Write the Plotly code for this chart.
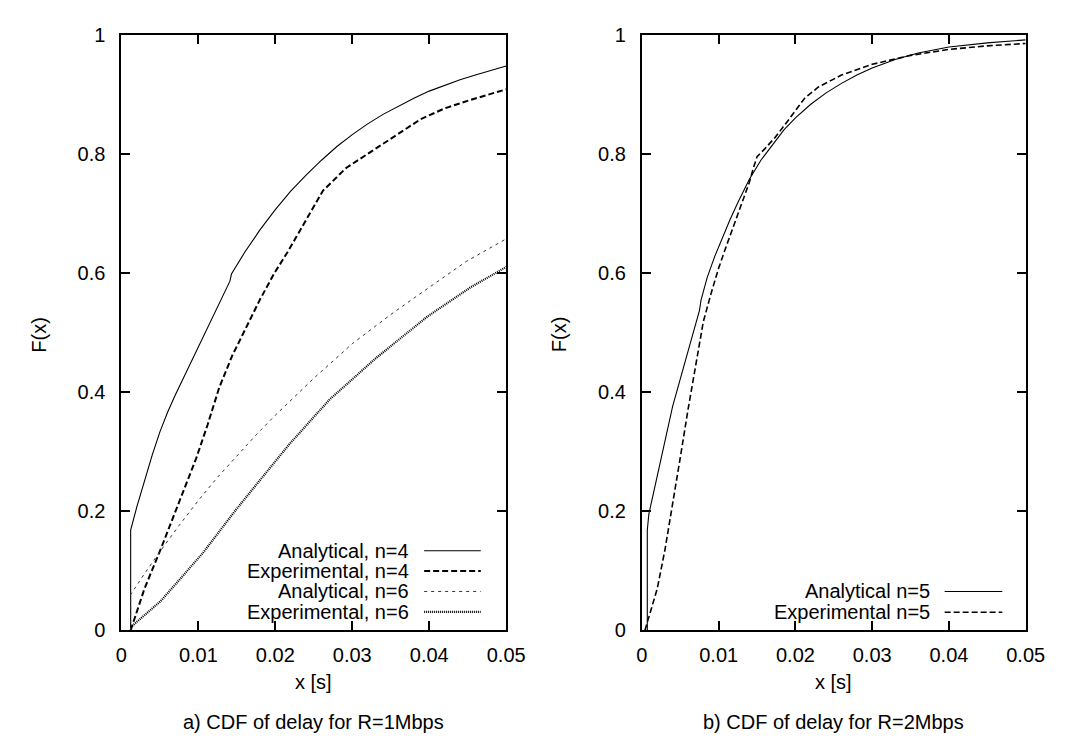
import plotly.graph_objects as go

# ---------------- data ----------------
# Panel a) R=1Mbps
a4_x = [0.0012, 0.0012, 0.002, 0.003, 0.004, 0.005, 0.006, 0.007, 0.008, 0.009, 0.010, 0.011,
        0.012, 0.013, 0.0141, 0.0143, 0.016, 0.018, 0.020, 0.022, 0.024, 0.026, 0.028, 0.030,
        0.032, 0.034, 0.036, 0.038, 0.040, 0.042, 0.044, 0.046, 0.048, 0.050]
a4_y = [0.0, 0.168, 0.207, 0.252, 0.294, 0.333, 0.366, 0.395, 0.422, 0.448, 0.475, 0.503,
        0.530, 0.557, 0.586, 0.598, 0.634, 0.672, 0.706, 0.737, 0.764, 0.789, 0.812, 0.832,
        0.850, 0.866, 0.880, 0.893, 0.905, 0.915, 0.924, 0.932, 0.940, 0.947]

e4_x = [0.0012, 0.003, 0.0051, 0.0075, 0.0097, 0.0112, 0.0127, 0.0144, 0.0161, 0.018, 0.0199, 0.0216,
        0.0245, 0.0262, 0.0292, 0.0334, 0.0389, 0.042, 0.0453, 0.05]
e4_y = [0.0, 0.070, 0.136, 0.215, 0.288, 0.345, 0.407, 0.461, 0.505, 0.555, 0.600, 0.635,
        0.700, 0.738, 0.776, 0.812, 0.858, 0.876, 0.890, 0.908]

a6_x = [0.0012, 0.0012, 0.003, 0.005, 0.0075, 0.01, 0.0125, 0.015, 0.0175, 0.02, 0.022, 0.025,
        0.03, 0.035, 0.0385, 0.0448, 0.05]
a6_y = [0.0, 0.060, 0.095, 0.132, 0.176, 0.218, 0.257, 0.293, 0.328, 0.361, 0.386, 0.423,
        0.481, 0.530, 0.562, 0.619, 0.657]

e6_x = [0.0012, 0.0051, 0.0106, 0.0148, 0.0199, 0.0218, 0.0241, 0.0271, 0.0292, 0.033, 0.0398,
        0.0453, 0.05]
e6_y = [0.005, 0.049, 0.130, 0.201, 0.282, 0.312, 0.345, 0.388, 0.412, 0.456, 0.527,
        0.575, 0.610]

# Panel b) R=2Mbps
a5_x = [0.0007, 0.0007, 0.0009, 0.002, 0.003, 0.004, 0.005, 0.006, 0.007, 0.0075, 0.0077,
        0.0085, 0.0095, 0.0105, 0.0115, 0.0125, 0.014, 0.0155, 0.017, 0.0185, 0.020, 0.022,
        0.024, 0.026, 0.028, 0.030, 0.033, 0.036, 0.040, 0.045, 0.050]
a5_y = [0.0, 0.168, 0.195, 0.258, 0.315, 0.376, 0.422, 0.468, 0.513, 0.537, 0.554,
        0.592, 0.628, 0.660, 0.690, 0.718, 0.757, 0.789, 0.815, 0.840, 0.860, 0.883,
        0.902, 0.918, 0.932, 0.944, 0.958, 0.969, 0.979, 0.986, 0.991]

e5_x = [0.0004, 0.001, 0.002, 0.003, 0.004, 0.005, 0.006, 0.007, 0.008, 0.009, 0.010, 0.011,
        0.012, 0.013, 0.014, 0.0145, 0.015, 0.016, 0.0174, 0.019, 0.0212, 0.023, 0.026, 0.030,
        0.035, 0.040, 0.045, 0.050]
e5_y = [0.0, 0.025, 0.070, 0.135, 0.210, 0.290, 0.370, 0.447, 0.518, 0.565, 0.608, 0.645,
        0.680, 0.715, 0.752, 0.775, 0.795, 0.808, 0.828, 0.855, 0.893, 0.912, 0.932, 0.950,
        0.965, 0.975, 0.981, 0.985]

x_ticks = [0, 0.01, 0.02, 0.03, 0.04, 0.05]
x_tick_labels = ["0", "0.01", "0.02", "0.03", "0.04", "0.05"]
y_ticks = [0, 0.2, 0.4, 0.6, 0.8, 1.0]
y_tick_labels = ["0", "0.2", "0.4", "0.6", "0.8", "1"]

legend_a = ["Analytical, n=4", "Experimental, n=4", "Analytical, n=6", "Experimental, n=6"]
legend_b = ["Analytical n=5", "Experimental n=5"]
captions = ["a) CDF of delay for R=1Mbps", "b) CDF of delay for R=2Mbps"]
x_title = "x [s]"
y_title = "F(x)"

# ---------------- styles ----------------
FONT = "Liberation Sans, Arial, Helvetica, sans-serif"
FS = 20
W, H = 1066, 740

st_a4 = dict(color="black", width=1.1, dash="solid")
st_e4 = dict(color="black", width=2.0, dash="6px,3px")
st_a6 = dict(color="#333333", width=1.0, dash="3px,4px")
st_e6 = dict(color="black", width=2.2, dash="1px,1px")
st_a5 = dict(color="black", width=1.1, dash="solid")
st_e5 = dict(color="black", width=1.6, dash="6px,3px")

fig = go.Figure()
for xs, ys, st, ax in [(a4_x, a4_y, st_a4, "x"), (e4_x, e4_y, st_e4, "x"),
                       (a6_x, a6_y, st_a6, "x"), (e6_x, e6_y, st_e6, "x"),
                       (a5_x, a5_y, st_a5, "x2"), (e5_x, e5_y, st_e5, "x2")]:
    fig.add_trace(go.Scatter(x=xs, y=ys, mode="lines", line=st, showlegend=False,
                             xaxis=ax, yaxis="y" if ax == "x" else "y2", hoverinfo="skip"))

# plot area pixel geometry
L1, R1 = 110, 504
L2, R2 = 643, 1036
TOP, BOT = 16, 630


def px(xp):
    return xp / W


def py(yp):
    return (H - yp) / H


common_axis = dict(showline=True, linecolor="black", linewidth=2, mirror="ticks",
                   ticks="inside", ticklen=9, tickwidth=1.5, tickcolor="black",
                   showgrid=False, zeroline=False, tickfont=dict(family=FONT, size=FS, color="black"),
                   fixedrange=True)

fig.update_layout(
    width=W, height=H, margin=dict(l=0, r=0, t=0, b=0),
    paper_bgcolor="white", plot_bgcolor="white",
    font=dict(family=FONT, size=FS, color="black"),
    xaxis=dict(domain=[px(L1), px(R1)], range=[0, 0.05], anchor="y",
               tickvals=x_ticks, ticktext=x_tick_labels, ticklabelstandoff=6, **common_axis),
    yaxis=dict(domain=[py(BOT), py(TOP)], range=[0, 1], anchor="x",
               tickvals=y_ticks, ticktext=y_tick_labels, ticklabelstandoff=10, **common_axis),
    xaxis2=dict(domain=[px(L2), px(R2)], range=[0, 0.05], anchor="y2",
                tickvals=x_ticks, ticktext=x_tick_labels, ticklabelstandoff=6, **common_axis),
    yaxis2=dict(domain=[py(BOT), py(TOP)], range=[0, 1], anchor="x2",
                tickvals=y_ticks, ticktext=y_tick_labels, ticklabelstandoff=10, **common_axis),
)

ann = []
shapes = []
# axis titles and captions
for cx, lx in [((L1 + R1) / 2, 26), ((L2 + R2) / 2, 558)]:
    ann.append(dict(x=px(cx), y=py(683), xref="paper", yref="paper", text=x_title,
                    showarrow=False, xanchor="center", yanchor="middle", font=dict(size=FS)))
    ann.append(dict(x=px(lx), y=py(325), xref="paper", yref="paper", text=y_title,
                    showarrow=False, textangle=-90, xanchor="center", yanchor="middle",
                    font=dict(size=FS)))
ann.append(dict(x=px((L1 + R1) / 2), y=py(725), xref="paper", yref="paper", text=captions[0],
                showarrow=False, xanchor="center", yanchor="middle", font=dict(size=FS)))
ann.append(dict(x=px((L2 + R2) / 2), y=py(725), xref="paper", yref="paper", text=captions[1],
                showarrow=False, xanchor="center", yanchor="middle", font=dict(size=FS)))

# gnuplot-style keys: right-aligned text followed by line sample
for labels, styles, rows, tx, lx0, lx1 in [
        (legend_a, [st_a4, st_e4, st_a6, st_e6], [548, 569, 590, 611], 407, 420, 478),
        (legend_b, [st_a5, st_e5], [590, 611.5], 940, 953, 1012)]:
    for lab, st, ry in zip(labels, styles, rows):
        ann.append(dict(x=px(tx), y=py(ry), xref="paper", yref="paper", text=lab,
                        showarrow=False, xanchor="right", yanchor="middle", font=dict(size=FS)))
        shapes.append(dict(type="line", xref="paper", yref="paper",
                           x0=px(lx0), x1=px(lx1), y0=py(ry), y1=py(ry), line=st))

fig.update_layout(annotations=ann, shapes=shapes)
fig.write_html("out.html")
